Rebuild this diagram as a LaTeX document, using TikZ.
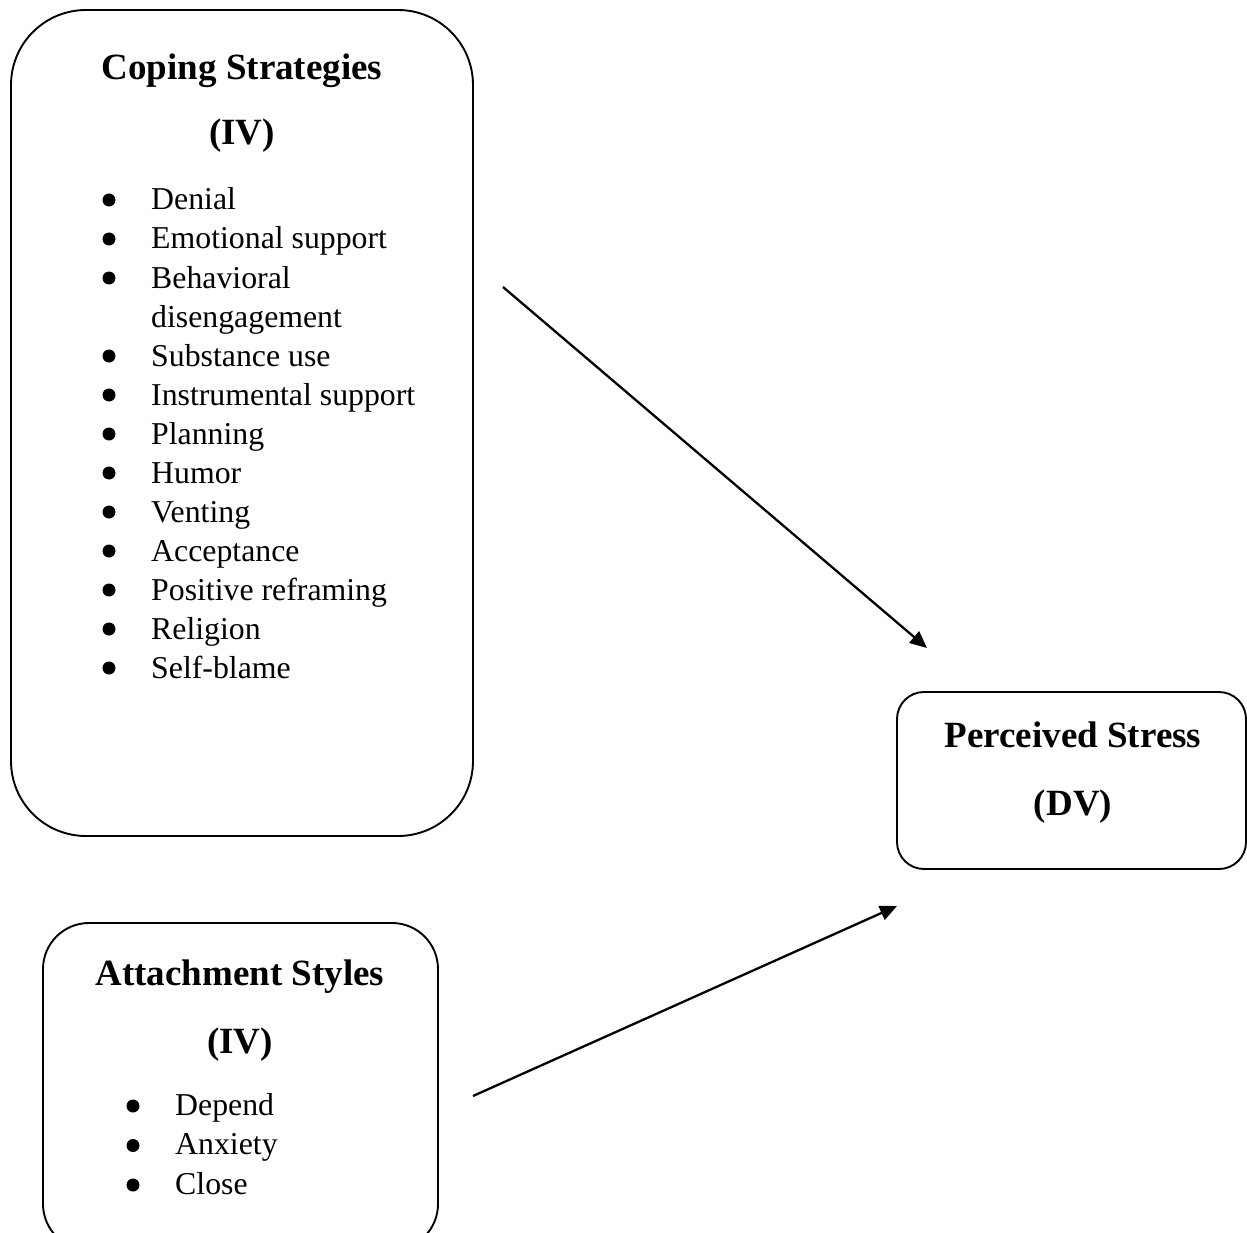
\documentclass[tikz,border=0pt]{standalone}
\usepackage{fontspec}
\setmainfont{Liberation Serif}
\usetikzlibrary{arrows.meta}

\begin{document}
\begin{tikzpicture}[x=1pt, y=-1pt,
        frame/.style={draw, line width=1.9, rounded corners=#1},
        head/.style={anchor=base, inner sep=0, font=\fontsize{37}{44}\selectfont\bfseries},
        item/.style={anchor=base west, inner sep=0, font=\fontsize{31.8}{39}\selectfont},
        link/.style={line width=2.3, -{Triangle[length=17, width=15]}}]
        \useasboundingbox (0,0) rectangle (1247,1233);
        \node[frame=75, minimum width=462, minimum height=826] (coping) at (242,423) {};
        \node[frame=46, minimum width=395, minimum height=327] (attach) at (240.5,1086.5) {};
        \node[frame=27, minimum width=349, minimum height=177] (stress) at (1071.5,780.5) {};
        \node[head] (copetitle) at (242,80) {Coping Strategies};
        \node[head] (copetype) at (242,145) {(IV)};
        \node[head] (attachtitle) at (240,985) {Attachment Styles};
        \node[head] (attachtype) at (240,1053) {(IV)};
        \node[head] (stresstitle) at (1073,747) {Perceived Stress};
        \node[head] (stresstype) at (1073,815) {(DV)};
        \foreach \t/\b [count=\i from 0] in {Denial/1, Emotional support/1, Behavioral/1, disengagement/0, Substance use/1, Instrumental support/1, Planning/1, Humor/1, Venting/1, Acceptance/1, Positive reframing/1, Religion/1, Self-blame/1}
        {
            \node[item] (cope\i) at (151,210+39*\i) {\t};
            \ifnum\b=1 \fill (109,200+39*\i) circle (6.5); \fi
        }
        \foreach \t [count=\i from 0] in {Depend, Anxiety, Close}
        {
            \node[item] (attach\i) at (175,1115+39.5*\i) {\t};
            \fill (133,1106+39.5*\i) circle (6.5);
        }
        \coordinate (copeout) at (503,287);
        \coordinate (stressin) at (927,648);
        \coordinate (attachout) at (473,1096);
        \coordinate (stressbelow) at (897,906);
        \draw[link] (copeout) -- (stressin);
        \draw[link] (attachout) -- (stressbelow);
    \end{tikzpicture}
\end{document}
